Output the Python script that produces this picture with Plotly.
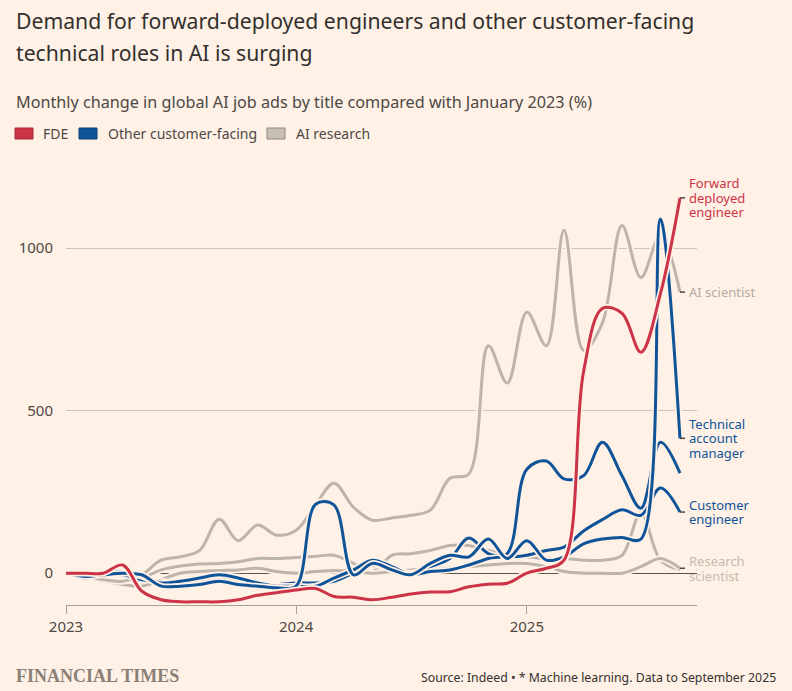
import pandas as pd
import plotly.graph_objects as go

# monthly points, Jan 2023 to Sep 2025
months = pd.date_range("2023-01-01", "2025-09-01", freq="MS")

# % change vs January 2023
fde = [0, 0, 0, 25, -55, -82, -88, -88, -88, -82, -68, -60, -52, -47, -72, -74, -82,
       -74, -64, -58, -57, -42, -34, -31, 0, 15, 40, 620, 815, 800, 680, 860, 1155]
tech_account_mgr = [0, -10, -5, 0, -5, -40, -40, -35, -25, -35, -40, -45, -40, 212, 210, -5, 30,
                    10, -5, 30, 55, 50, 105, 45, 100, 40, 50, 90, 105, 110, 105, 1090, 415]
customer_eng = [0, -5, 0, -5, -20, -25, -30, -20, -10, -20, -30, -35, -30, -30, -25, 0, 25,
                15, 0, 20, 45, 108, 60, 50, 55, 70, 80, 130, 165, 195, 178, 262, 188]
other_cf = [0, -15, 0, 5, -10, -30, -25, -15, -5, -15, -30, -40, -40, -40, -15, 10, 40,
            20, -5, 5, 10, 25, 45, 60, 320, 345, 290, 300, 403, 300, 200, 403, 308]
ai_scientist = [0, -10, -20, -25, -5, 40, 50, 70, 166, 100, 148, 117, 132, 210, 277, 203, 163,
                170, 178, 194, 292, 305, 700, 585, 803, 700, 1055, 686, 770, 1070, 910, 1040, 865]
ml_scientist = [0, -10, -20, -25, -15, 10, 22, 28, 30, 35, 45, 45, 48, 52, 55, 30, 5,
                55, 60, 70, 85, 85, 70, 55, 50, 45, 45, 40, 40, 55, 185, 40, 10]
research_scientist = [0, -15, -25, -35, -40, -20, 0, 5, 8, 10, 15, 5, 0, 5, 8, 5, 0,
                      5, 10, 10, 15, 20, 25, 30, 30, 20, 5, 0, 0, 0, 20, 45, 15]

legend_names = ["FDE", "Other customer-facing", "AI research"]

BG = "#fff1e5"
RED = "#cc3347"
BLUE = "#0f5499"
GREY = "#bdb4ab"
TEXT = "#33302e"
SUB = "#4d4845"
FONT = "Noto Sans"

# plot area in pixels (used to place the text around it)
W, H = 792, 691
L, R, T, B = 66, 697, 167, 605


def px(x):
    return (x - L) / (R - L)


def py(y):
    return (B - y) / (B - T)


fig = go.Figure()

series = [
    (ml_scientist, GREY, None, None),
    (research_scientist, GREY, "Research<br>scientist", "#c4bab1"),
    (ai_scientist, GREY, "AI scientist", "#b5aba2"),
    (customer_eng, BLUE, "Customer<br>engineer", BLUE),
    (other_cf, BLUE, None, None),
    (tech_account_mgr, BLUE, "Technical<br>account<br>manager", BLUE),
    (fde, RED, "Forward<br>deployed<br>engineer", RED),
]

annotations = []
shapes = []

for vals, col, label, lcol in series:
    # halo under each line
    fig.add_trace(go.Scatter(x=months, y=vals, mode="lines",
                             line=dict(color=BG, width=6.5, shape="spline", smoothing=1),
                             hoverinfo="skip", showlegend=False))
    fig.add_trace(go.Scatter(x=months, y=vals, mode="lines",
                             line=dict(color=col, width=3, shape="spline", smoothing=1),
                             showlegend=False))
    if label:
        parts = label.split("<br>")
        n = len(parts)
        for k, p in enumerate(parts):
            annotations.append(dict(x=months[-1], y=vals[-1], xref="x", yref="y",
                                    text=p, showarrow=False, xanchor="left", yanchor="middle",
                                    xshift=7, yshift=((n - 1) / 2 - k) * 14.5,
                                    font=dict(family=FONT, size=13, color=lcol)))
        shapes.append(dict(type="line", xref="x", yref="y",
                           x0=months[-1], x1=months[-1] + pd.Timedelta(days=8),
                           y0=vals[-1], y1=vals[-1], line=dict(color=SUB, width=1.5)))

# titles
annotations += [
    dict(x=px(14), y=py(20), text="Demand for forward-deployed engineers and other customer-facing",
         font=dict(family=FONT, size=21.2, color=TEXT)),
    dict(x=px(14), y=py(52), text="technical roles in AI is surging",
         font=dict(family=FONT, size=21.2, color=TEXT)),
    dict(x=px(14), y=py(102), text="Monthly change in global AI job ads by title compared with January 2023 (%)",
         font=dict(family=FONT, size=16.2, color=SUB)),
]

# legend
leg = [(15, 41, RED, "#a82a3b"), (79, 106, BLUE, "#0b3f73"), (267, 294, "#c7beb6", "#8f867e")]
for (sx, tx, fill, edge), name in zip(leg, legend_names):
    shapes.append(dict(type="rect", xref="paper", yref="paper",
                       x0=px(sx), x1=px(sx + 18), y0=py(139), y1=py(128),
                       fillcolor=fill, line=dict(color=edge, width=1)))
    annotations.append(dict(x=px(tx), y=py(133), text=name,
                            font=dict(family=FONT, size=14, color=SUB)))

# footer
annotations += [
    dict(x=px(14), y=py(676), text="<b>FINANCIAL TIMES</b>",
         font=dict(family="Liberation Serif", size=18, color="#8a7f77")),
    dict(x=px(778), y=py(677), text="Source: Indeed \u2022 * Machine learning. Data to September 2025",
         xanchor="right", font=dict(family=FONT, size=12.3, color=TEXT)),
]

for a in annotations:
    a.setdefault("xref", "paper")
    a.setdefault("yref", "paper")
    a.setdefault("showarrow", False)
    a.setdefault("xanchor", "left")
    a.setdefault("yanchor", "middle")

fig.update_layout(
    width=W, height=H,
    margin=dict(l=L, r=W - R, t=T, b=H - B, pad=0),
    paper_bgcolor=BG, plot_bgcolor=BG,
    font=dict(family=FONT, color=SUB),
    showlegend=False,
    annotations=annotations,
    shapes=shapes,
    xaxis=dict(type="date", range=["2023-01-01", "2025-09-28"],
               tickvals=["2023-01-01", "2024-01-01", "2025-01-01"],
               ticktext=["2023", "2024", "2025"],
               ticks="outside", ticklen=8, tickcolor="#a89e95", tickwidth=1,
               showline=True, linecolor="#a89e95", linewidth=1,
               showgrid=False, zeroline=False,
               tickfont=dict(family=FONT, size=15, color=SUB)),
    yaxis=dict(range=[-98, 1250], tickvals=[0, 500, 1000],
               showgrid=True, gridcolor="#cfc4b9", gridwidth=1,
               zeroline=True, zerolinecolor="#5a534e", zerolinewidth=1,
               ticks="", ticklabelstandoff=12, showline=False,
               tickfont=dict(family=FONT, size=15, color=SUB)),
)

fig.write_html("out.html", config={"displayModeBar": False},
               post_script="document.body.style.margin='0';"
                           "document.body.style.background='#fff1e5';")
